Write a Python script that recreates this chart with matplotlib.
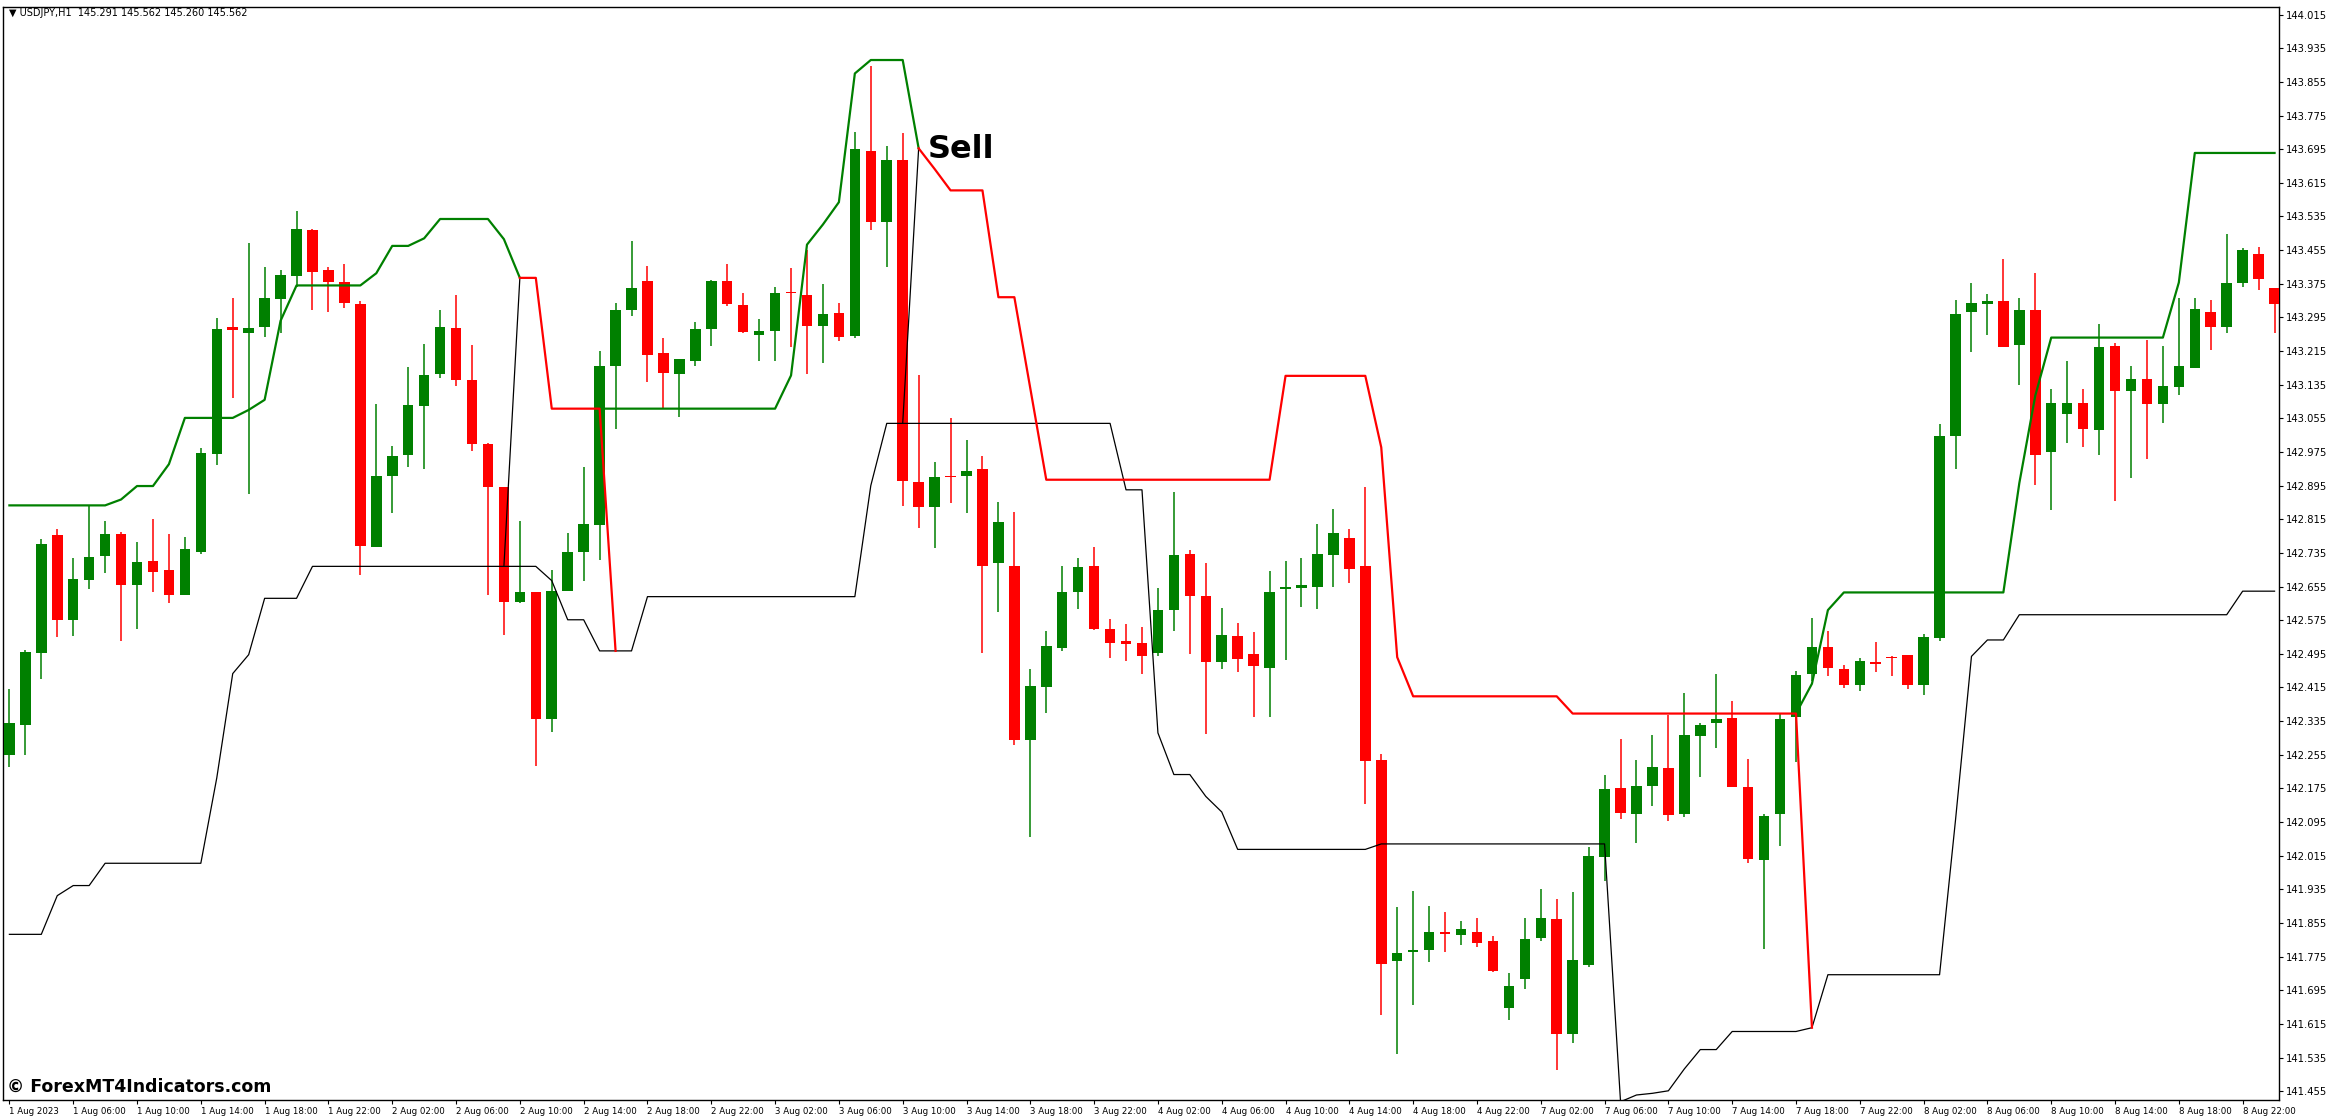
import numpy as np
import matplotlib
matplotlib.use("Agg")
import matplotlib.pyplot as plt

nan = np.nan

# hourly USDJPY bars, 1 Aug 02:00 .. 9 Aug 00:00 (weekend skipped)
opens = [142.254, 142.326, 142.496, 142.777, 142.576, 142.671, 142.727, 142.780, 142.658, 142.716,
         142.695, 142.635, 142.738, 142.971, 143.272, 143.257, 143.273, 143.339, 143.393, 143.503,
         143.407, 143.379, 143.327, 142.750, 142.917, 142.967, 143.085, 143.160, 143.270, 143.147,
         142.995, 142.892, 142.618, 142.641, 142.340, 142.644, 142.736, 142.802, 143.179, 143.313,
         143.381, 143.211, 143.160, 143.192, 143.268, 143.381, 143.324, 143.252, 143.262, 143.355,
         143.348, 143.275, 143.306, 143.251, 143.691, 143.522, 143.669, 142.903, 142.844, 142.919,
         142.917, 142.934, 142.710, 142.704, 142.290, 142.417, 142.510, 142.642, 142.704, 142.554,
         142.525, 142.520, 142.496, 142.599, 142.733, 142.633, 142.476, 142.537, 142.494, 142.462,
         142.648, 142.652, 142.655, 142.729, 142.771, 142.703, 142.243, 141.765, 141.787, 141.790,
         141.834, 141.827, 141.834, 141.813, 141.653, 141.721, 141.820, 141.864, 141.590, 141.756,
         142.011, 142.176, 142.115, 142.181, 142.223, 142.114, 142.299, 142.330, 142.343, 142.179,
         142.005, 142.114, 142.345, 142.447, 142.512, 142.460, 142.421, 142.476, 142.487, 142.492,
         142.421, 142.533, 143.014, 143.308, 143.327, 143.333, 143.229, 143.313, 142.976, 143.066,
         143.091, 143.028, 143.226, 143.119, 143.148, 143.090, 143.129, 143.175, 143.309, 143.271,
         143.376, 143.446, 143.365]
highs = [142.412, 142.505, 142.768, 142.793, 142.723, 142.848, 142.810, 142.784, 142.761, 142.815,
         142.780, 142.773, 142.985, 143.293, 143.341, 143.473, 143.415, 143.407, 143.548, 143.506,
         143.415, 143.421, 143.334, 143.088, 142.989, 143.178, 143.232, 143.312, 143.348, 143.230,
         142.996, 142.892, 142.812, 142.641, 142.695, 142.782, 142.940, 143.214, 143.329, 143.477,
         143.418, 143.246, 143.197, 143.285, 143.385, 143.423, 143.354, 143.291, 143.367, 143.413,
         143.456, 143.375, 143.330, 143.735, 143.893, 143.702, 143.733, 143.159, 142.950, 143.056,
         143.003, 142.966, 142.856, 142.832, 142.458, 142.549, 142.704, 142.724, 142.748, 142.578,
         142.566, 142.560, 142.651, 142.879, 142.742, 142.712, 142.605, 142.569, 142.548, 142.691,
         142.716, 142.723, 142.804, 142.840, 142.791, 142.891, 142.258, 141.892, 141.932, 141.896,
         141.882, 141.859, 141.868, 141.825, 141.736, 141.866, 141.937, 141.911, 141.928, 142.035,
         142.208, 142.293, 142.242, 142.303, 142.349, 142.402, 142.330, 142.447, 142.384, 142.244,
         142.114, 142.351, 142.454, 142.580, 142.549, 142.468, 142.484, 142.524, 142.490, 142.492,
         142.541, 143.042, 143.337, 143.377, 143.350, 143.434, 143.340, 143.400, 143.125, 143.192,
         143.125, 143.279, 143.233, 143.179, 143.242, 143.226, 143.340, 143.342, 143.337, 143.493,
         143.460, 143.463, 143.365]
lows = [142.227, 142.254, 142.436, 142.534, 142.538, 142.649, 142.687, 142.526, 142.555, 142.642,
        142.617, 142.635, 142.732, 142.943, 143.104, 142.874, 143.248, 143.257, 143.368, 143.313,
        143.309, 143.318, 142.682, 142.750, 142.831, 142.940, 142.934, 143.151, 143.132, 142.978,
        142.635, 142.540, 142.615, 142.229, 142.308, 142.644, 142.669, 142.719, 143.030, 143.299,
        143.142, 143.079, 143.059, 143.179, 143.228, 143.323, 143.259, 143.192, 143.192, 143.224,
        143.161, 143.186, 143.239, 143.247, 143.504, 143.416, 142.847, 142.795, 142.747, 142.853,
        142.829, 142.496, 142.595, 142.279, 142.060, 142.354, 142.501, 142.602, 142.551, 142.484,
        142.477, 142.448, 142.491, 142.550, 142.495, 142.304, 142.459, 142.451, 142.345, 142.344,
        142.481, 142.606, 142.602, 142.655, 142.663, 142.138, 141.637, 141.543, 141.660, 141.762,
        141.786, 141.802, 141.798, 141.738, 141.625, 141.697, 141.811, 141.505, 141.569, 141.751,
        141.956, 142.103, 142.046, 142.132, 142.097, 142.106, 142.202, 142.270, 142.179, 141.998,
        141.792, 142.039, 142.238, 142.430, 142.443, 142.413, 142.407, 142.453, 142.443, 142.411,
        142.396, 142.525, 142.934, 143.213, 143.253, 143.224, 143.134, 142.896, 142.837, 142.997,
        142.988, 142.967, 142.858, 142.912, 142.959, 143.043, 143.111, 143.175, 143.217, 143.257,
        143.367, 143.361, 143.257]
closes = [142.331, 142.499, 142.756, 142.576, 142.672, 142.726, 142.780, 142.658, 142.714, 142.689,
          142.636, 142.745, 142.973, 143.268, 143.266, 143.270, 143.341, 143.395, 143.506, 143.403,
          143.380, 143.330, 142.752, 142.919, 142.966, 143.086, 143.157, 143.272, 143.146, 142.993,
          142.892, 142.618, 142.641, 142.340, 142.645, 142.737, 142.803, 143.180, 143.312, 143.364,
          143.205, 143.162, 143.195, 143.268, 143.381, 143.327, 143.261, 143.262, 143.354, 143.352,
          143.274, 143.302, 143.249, 143.696, 143.522, 143.669, 142.905, 142.843, 142.915, 142.915,
          142.930, 142.703, 142.809, 142.291, 142.419, 142.514, 142.643, 142.702, 142.554, 142.521,
          142.519, 142.491, 142.600, 142.730, 142.632, 142.476, 142.539, 142.483, 142.465, 142.643,
          142.653, 142.658, 142.733, 142.783, 142.696, 142.239, 141.758, 141.784, 141.790, 141.834,
          141.828, 141.841, 141.808, 141.741, 141.704, 141.818, 141.866, 141.590, 141.766, 142.014,
          142.174, 142.117, 142.180, 142.225, 142.112, 142.301, 142.326, 142.340, 142.179, 142.006,
          142.110, 142.340, 142.445, 142.512, 142.461, 142.421, 142.477, 142.470, 142.484, 142.421,
          142.536, 143.014, 143.302, 143.329, 143.333, 143.224, 143.313, 142.968, 143.091, 143.091,
          143.030, 143.224, 143.120, 143.148, 143.090, 143.132, 143.179, 143.314, 143.271, 143.377,
          143.456, 143.387, 143.326]

# indicator lines (green = up phase, red = down phase, black = opposite band)
line_up = ([142.848] * 7 + [142.862, 142.894, 142.894, 142.946] + [143.056] * 4 +
           [143.075, 143.099, 143.287] + [143.371] * 5 + [143.400, 143.465, 143.465, 143.483] +
           [143.529] * 4 + [143.481, 143.389] + [nan] * 4 + [143.078] * 12 +
           [143.157, 143.468, 143.516, 143.569, 143.875] + [143.907] * 3 + [143.697] +
           [nan] * 54 + [142.353, 142.424, 142.599] + [142.641] * 11 + [142.901, 143.109] +
           [143.247] * 8 + [143.378] + [143.686] * 6)
line_dn = ([nan] * 32 + [143.389, 143.389] + [143.078] * 4 + [142.502] + [nan] * 18 +
           [143.697, 143.648] + [143.597] * 3 + [143.343, 143.343, 143.126] + [142.909] * 15 +
           [143.156] * 6 + [142.986, 142.487] + [142.394] * 10 + [142.353] * 15 + [141.606] +
           [nan] * 29)
line_band = ([141.828] * 3 + [141.92] + [141.944] * 2 + [141.997] * 7 + [142.20, 142.448, 142.493] +
             [142.627] * 3 + [142.703] * 15 + [142.669] + [142.576] * 2 + [142.502] * 3 +
             [142.631] * 14 + [142.895] + [143.043] * 15 + [142.885] * 2 + [142.307] +
             [142.208] * 2 + [142.156, 142.119] + [142.030] * 9 + [142.043] * 15 +
             [141.43, 141.446, 141.45, 141.456, 141.508] + [141.554] * 2 + [141.597] * 5 +
             [141.606] + [141.732] * 8 + [142.10, 142.489] + [142.528] * 2 + [142.588] * 14 +
             [142.644] * 3)
switch_down = [31, 56]  # bar before the red phase starts

tick_labels = ["1 Aug 2023", "1 Aug 06:00", "1 Aug 10:00", "1 Aug 14:00", "1 Aug 18:00", "1 Aug 22:00",
               "2 Aug 02:00", "2 Aug 06:00", "2 Aug 10:00", "2 Aug 14:00", "2 Aug 18:00", "2 Aug 22:00",
               "3 Aug 02:00", "3 Aug 06:00", "3 Aug 10:00", "3 Aug 14:00", "3 Aug 18:00", "3 Aug 22:00",
               "4 Aug 02:00", "4 Aug 06:00", "4 Aug 10:00", "4 Aug 14:00", "4 Aug 18:00", "4 Aug 22:00",
               "7 Aug 02:00", "7 Aug 06:00", "7 Aug 10:00", "7 Aug 14:00", "7 Aug 18:00", "7 Aug 22:00",
               "8 Aug 02:00", "8 Aug 06:00", "8 Aug 10:00", "8 Aug 14:00", "8 Aug 18:00", "8 Aug 22:00"]
price_ticks = np.round(np.arange(141.455, 144.016, 0.08), 3)

GREEN = "#008000"
RED = "#ff0000"

fig = plt.figure(figsize=(23.33, 11.16), dpi=100)
ax = fig.add_axes([0.0015, 0.0143, 0.9755, 0.9794])

o = np.array(opens); h = np.array(highs); l = np.array(lows); c = np.array(closes)
x = np.arange(len(o))
up = c >= o
cols = np.where(up, GREEN, RED)

ax.vlines(x, l, h, colors=cols, linewidth=1.1, zorder=2)
body_lo = np.minimum(o, c)
body_h = np.maximum(np.abs(c - o), 0.004)
ax.bar(x, body_h, bottom=body_lo, width=0.66, color=cols, linewidth=0, zorder=3)

ax.plot(x, line_band, color="black", linewidth=0.9, zorder=4)
for i in switch_down:
    ax.plot([i, i + 1], [line_band[i], line_dn[i + 1]], color="black", linewidth=0.9, zorder=4)
ax.plot(x, line_up, color=GREEN, linewidth=1.6, zorder=5)
ax.plot(x, line_dn, color=RED, linewidth=1.6, zorder=5)

ax.text(57.6, 143.695, "Sell", fontsize=23, fontweight="bold", ha="left", va="center", zorder=6)

ax.set_xlim(-0.37, 142.3)
ax.set_ylim(141.434, 144.033)

ax.yaxis.tick_right()
ax.set_yticks(price_ticks)
ax.set_yticklabels([f"{v:.3f}" for v in price_ticks], fontsize=7.2)
ax.set_xticks(x[::4][:len(tick_labels)])
ax.set_xticklabels(tick_labels, fontsize=6.2, ha="left")
ax.tick_params(axis="both", length=3, width=0.8, pad=2)
for s in ax.spines.values():
    s.set_color("black")
    s.set_linewidth(1.0)

fig.text(0.004, 0.993, "\u25bc USDJPY,H1  145.291 145.562 145.260 145.562", fontsize=7,
         ha="left", va="top")
fig.text(0.003, 0.026, "\u00a9 ForexMT4Indicators.com", fontsize=12.5, fontweight="bold",
         ha="left", va="center")

fig.savefig("out.png", dpi=100, facecolor="white")
